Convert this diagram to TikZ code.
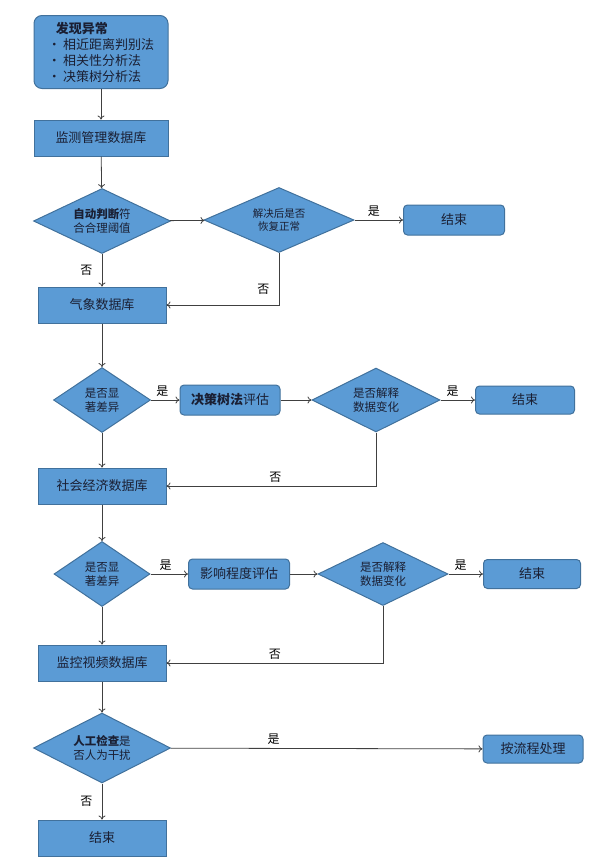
\documentclass[tikz,border=0pt]{standalone}
\usepackage{fontspec}
\setmainfont{Noto Sans CJK SC}
\usetikzlibrary{shapes.geometric,arrows.meta}

\definecolor{boxblue}{HTML}{5B9BD5}
\definecolor{boxline}{HTML}{41719C}
\definecolor{txt}{HTML}{1A1F33}
\definecolor{wire}{HTML}{404040}

\tikzset{
  dbbox/.style={rectangle, draw=boxline, fill=boxblue, line width=1pt,
    minimum width=128, minimum height=36, text=txt,
    font=\fontsize{13}{16}\selectfont},
  rbox/.style={dbbox, rounded corners=4, minimum width=100, minimum height=30},
  ask/.style={diamond, draw=boxline, fill=boxblue, line width=1pt, aspect=2.2,
    inner sep=1pt, align=center, text=txt, font=\fontsize{11.5}{14}\selectfont},
  wire/.style={draw=wire, line width=0.8pt, -{To[length=4pt,width=7pt]}},
  lab/.style={text=black, font=\fontsize{12}{14}\selectfont}
}

\begin{document}
\begin{tikzpicture}[x=1pt, y=-1pt]
  \useasboundingbox (0,0) rectangle (600,863);

  % main column
  \node[dbbox, rounded corners=8, minimum width=134, minimum height=73, align=left] (start) at (101,52)
    {\hspace*{8pt}\textbf{发现异常}\\•\,相近距离判别法\\•\,相关性分析法\\•\,决策树分析法};
  \node[dbbox, minimum width=134] (db1) at (101,138) {监测管理数据库};
  \node[ask, minimum width=137, minimum height=65] (d1) at (102,221) {\textbf{自动判断}符\\合合理阈值};
  \node[dbbox] (db2) at (102,305) {气象数据库};
  \node[ask, minimum width=97, minimum height=65] (d3) at (102,400) {是否显\\著差异};
  \node[dbbox] (db3) at (102,486) {社会经济数据库};
  \node[ask, minimum width=96, minimum height=65] (d5) at (102,574) {是否显\\著差异};
  \node[dbbox] (db4) at (102,663) {监控视频数据库};
  \node[ask, minimum width=137, minimum height=70] (d7) at (102,748) {\textbf{人工检查}是\\否人为干扰};
  \node[dbbox] (end4) at (102,838) {结束};

  % right hand side
  \node[ask, minimum width=150, minimum height=65, font=\fontsize{10.5}{13}\selectfont] (d2) at (279,220) {解决后是否\\恢复正常};
  \node[rbox, minimum width=101] (end1) at (454,220) {结束};
  \node[rbox] (eval1) at (230,400) {\textbf{决策树法}评估};
  \node[ask, minimum width=128, minimum height=64] (d4) at (376,400) {是否解释\\数据变化};
  \node[rbox, minimum width=99, minimum height=28] (end2) at (525,400) {结束};
  \node[rbox, minimum width=101] (eval2) at (239,574) {影响程度评估};
  \node[ask, minimum width=130, minimum height=63] (d6) at (383,574) {是否解释\\数据变化};
  \node[rbox, minimum width=97, minimum height=29] (end3) at (532,574) {结束};
  \node[rbox, minimum height=28] (proc) at (533,749) {按流程处理};

  % connectors
  \path[wire] (start) -- (db1);
  \path[wire] (db1) -- (d1);
  \path[wire] (d1) -- (d2);
  \path[wire] (d2) -- node[lab, above, pos=0.4] {是} (end1);
  \path[wire] (d1) -- node[lab, left=6pt] {否} (db2);
  \path[wire] (d2) |- node[lab, left=6pt, pos=0.35] {否} (db2);
  \path[wire] (db2) -- (d3);
  \path[wire] (d3) -- node[lab, above, pos=0.4] {是} (eval1);
  \path[wire] (eval1) -- (d4);
  \path[wire] (d4) -- node[lab, above, pos=0.35] {是} (end2);
  \path[wire] (d3) -- (db3);
  \path[wire] (d4) |- node[lab, above, pos=0.74] {否} (db3);
  \path[wire] (db3) -- (d5);
  \path[wire] (d5) -- node[lab, above, pos=0.4] {是} (eval2);
  \path[wire] (eval2) -- (d6);
  \path[wire] (d6) -- node[lab, above, pos=0.35] {是} (end3);
  \path[wire] (d5) -- (db4);
  \path[wire] (d6) |- node[lab, above, pos=0.75] {否} (db4);
  \path[wire] (db4) -- (d7);
  \path[wire] (d7) -- node[lab, above, pos=0.33] {是} (proc);
  \path[wire] (d7) -- node[lab, left=6pt] {否} (end4);
\end{tikzpicture}
\end{document}
